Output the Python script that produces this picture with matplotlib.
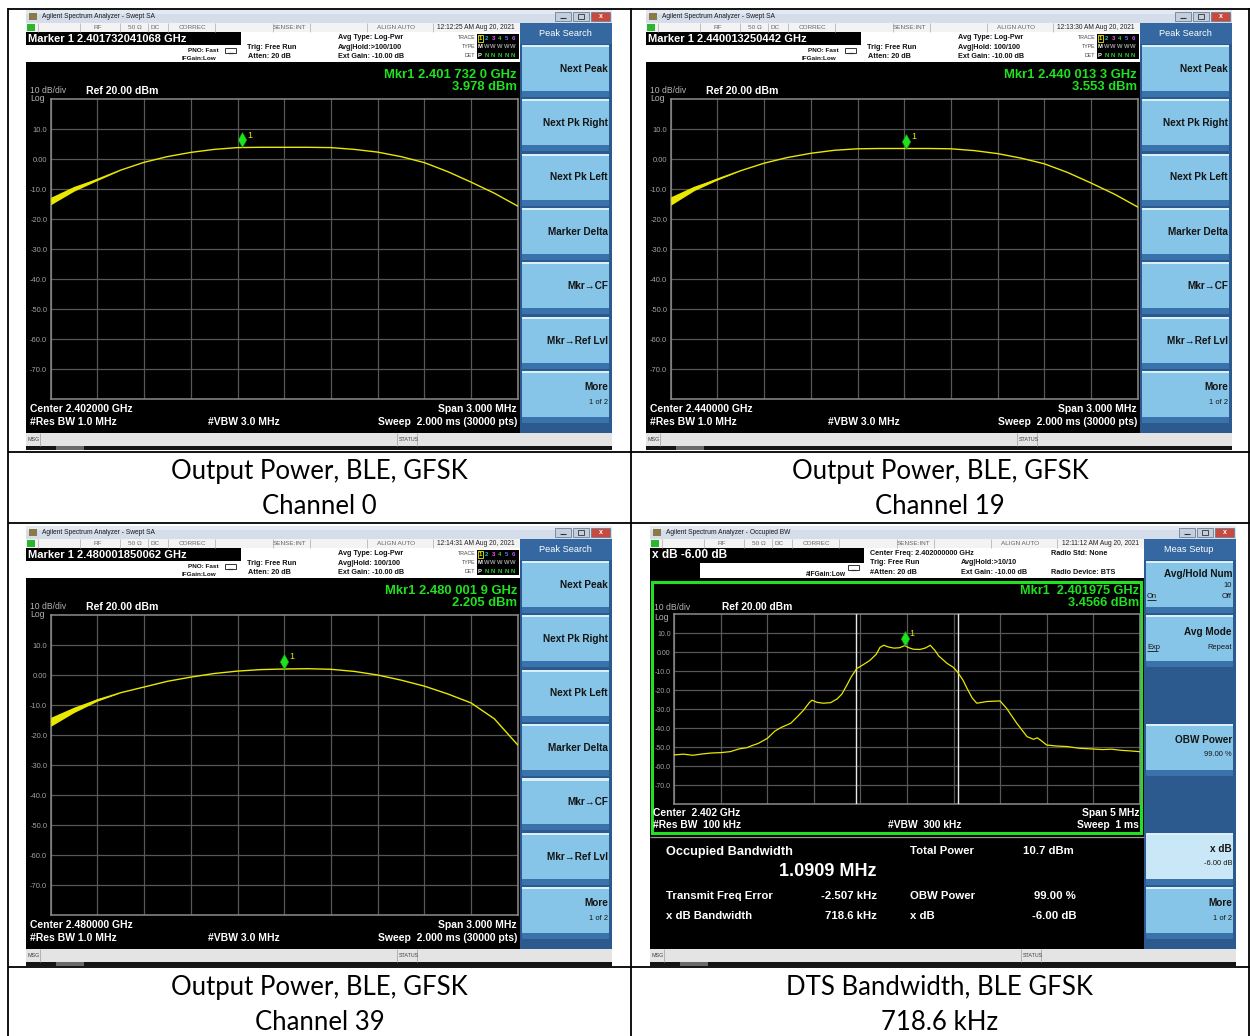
import numpy as np
import matplotlib
matplotlib.use("Agg")
import matplotlib.pyplot as plt
from matplotlib.patches import Rectangle
from matplotlib.path import Path

SCREEN = ["Liberation Sans", "DejaVu Sans"]
CAPTION = ["Lato", "DejaVu Sans"]
plt.rcParams["font.family"] = SCREEN

# ---------------- data ----------------
center_ghz = [2.402, 2.440, 2.480]
marker_freq_ghz = [2.4017320, 2.4400133, 2.4800019]
marker_dbm = [3.978, 3.553, 2.205]
marker_readout = ["2.401732041068", "2.440013250442", "2.480001850062"]
mkr_text = ["2.401 732 0 GHz", "2.440 013 3 GHz", "2.480 001 9 GHz"]
clock = ["12:12:25 AM Aug 20, 2021", "12:13:30 AM Aug 20, 2021",
         "12:14:31 AM Aug 20, 2021"]
avg_hold = ["Avg|Hold:>100/100", "Avg|Hold: 100/100", "Avg|Hold: 100/100"]

# swept traces, dBm at every half division over the 3 MHz span
trace_ch0 = [-13.9, -9.8, -6.7, -3.6, -1.0, 0.9, 2.3, 3.3, 3.9, 4.0, 4.0,
             4.0, 3.9, 3.3, 2.4, 0.9, -1.1, -4.1, -7.6, -11.3, -15.6]
trace_ch19 = [-13.9, -9.7, -6.6, -3.8, -1.3, 0.6, 2.0, 3.0, 3.5, 3.6, 3.6,
              3.6, 3.5, 2.9, 1.9, 0.4, -1.5, -4.4, -7.9, -11.6, -15.9]
trace_ch39 = [-15.5, -11.5, -8.2, -5.8, -3.9, -2.0, -0.6, 0.6, 1.4, 1.9, 2.1,
              2.2, 2.0, 1.3, 0.1, -1.6, -3.6, -6.2, -9.2, -14.5, -23.2]
# peak-to-peak width of the noisy start of each sweep (dB)
spread_ch0 = [2.5, 1.6, 0.7, 0.0]
spread_ch19 = [2.8, 1.5, 0.6, 0.0]
spread_ch39 = [3.0, 1.8, 0.8, 0.0]
traces = [trace_ch0, trace_ch19, trace_ch39]
spreads = [spread_ch0, spread_ch19, spread_ch39]

levels = [10, 0, -10, -20, -30, -40, -50, -60, -70]
level_labels = ["10.0", "0.00", "-10.0", "-20.0", "-30.0", "-40.0",
                "-50.0", "-60.0", "-70.0"]

# occupied bandwidth sweep: offset from 2.402 GHz (MHz) and level (dBm)
obw_offset_mhz = [-2.50, -2.40, -2.30, -2.20, -2.10, -2.00, -1.90, -1.80, -1.72,
                  -1.66, -1.60, -1.50, -1.42, -1.35, -1.25, -1.18, -1.11, -1.05,
                  -1.02, -0.97, -0.90, -0.82, -0.75, -0.70, -0.645, -0.60, -0.54,
                  -0.47, -0.40, -0.33, -0.29, -0.25, -0.20, -0.14, -0.08, -0.025,
                  0.02, 0.07, 0.14, 0.20, 0.25, 0.30, 0.34, 0.43, 0.50, 0.54,
                  0.60, 0.645, 0.70, 0.75, 0.86, 1.00, 1.07, 1.18, 1.29, 1.36,
                  1.40, 1.45, 1.50, 1.60, 1.72, 1.85, 2.00, 2.10, 2.20, 2.30,
                  2.40, 2.50]
obw_level = [-54.0, -53.6, -54.2, -53.5, -53.0, -52.8, -52.3, -50.8, -50.2,
             -49.0, -48.0, -45.3, -41.5, -39.5, -37.4, -34.0, -30.4, -26.5,
             -25.2, -26.3, -26.8, -26.5, -24.5, -22.0, -17.2, -13.0, -8.6,
             -6.5, -4.3, -1.0, 2.6, 3.7, 2.8, 2.2, 2.4, 3.5,
             2.4, 1.6, 1.5, 2.3, 3.7, 1.0, -1.9, -5.8, -8.0, -10.2,
             -14.5, -19.0, -24.0, -26.8, -25.9, -25.6, -29.5, -37.4, -44.4, -45.8,
             -45.0, -46.8, -48.8, -49.3, -49.6, -50.5, -50.9, -51.2, -51.0, -51.6,
             -51.9, -52.3]
obw_marker_mhz = -0.025
obw_marker_dbm = 3.4566
obw_mhz = 1.0909
freq_error_khz = -2.507
xdb_bw_khz = 718.6

captions = [("Output Power, BLE, GFSK", "Channel 0"),
            ("Output Power, BLE, GFSK", "Channel 19"),
            ("Output Power, BLE, GFSK", "Channel 39"),
            ("DTS Bandwidth, BLE GFSK", "718.6 kHz")]

# ---------------- figure ----------------
W, H = 1250, 1036
fig = plt.figure(figsize=(W / 100, H / 100), dpi=100)
cv = fig.add_axes([0, 0, 1, 1])
cv.set_xlim(0, W)
cv.set_ylim(H, 0)
cv.axis("off")

GREEN = "#1FE21F"
YELLOW = "#E8E800"
KEY_BG = "#2C5A8E"
KEY_LIGHT = "#86C5E8"
KEY_SEL = "#C9E7F6"
BTN_TOP, BTN_PITCH = 34.7, 54.4


def rect(x, y, w, h, fc, ec="none", lw=0, z=1):
    cv.add_patch(Rectangle((x, y), w, h, facecolor=fc, edgecolor=ec,
                           linewidth=lw, zorder=z))


def txt(x, y, s, size, color="#111111", ha="left", weight="normal",
        family=SCREEN, z=5):
    cv.text(x, y, s, fontsize=size, color=color, ha=ha, va="center",
            fontweight=weight, family=family, zorder=z)


def line(xs, ys, color, lw, z=3):
    cv.plot(xs, ys, color=color, lw=lw, zorder=z, solid_capstyle="butt")


def chrome(ox, oy, title, clock_str):
    rect(ox, oy, 586, 440, "#151515")
    # title bar
    rect(ox, oy, 586, 12.5, "#D4DDE9")
    rect(ox, oy, 586, 4, "#E2E9F2")
    rect(ox + 3, oy + 3, 8, 7, "#8B7A45")
    txt(ox + 16, oy + 6.5, title, 4.8, "#1A1A1A")
    for bx, bw, col in [(529, 16, "#C3CFDD"), (547, 16, "#C3CFDD"),
                        (565, 19, "#C94A3C")]:
        rect(ox + bx, oy + 2, bw, 9, col, ec="#6E7E92", lw=0.6, z=2)
    line([ox + 534, ox + 540], [oy + 8, oy + 8], "#333333", 0.8)
    rect(ox + 552, oy + 4, 6, 5, "none", ec="#333333", lw=0.6, z=3)
    txt(ox + 574.5, oy + 6.3, "x", 5, "white", ha="center", weight="bold")
    # status row
    rect(ox, oy + 12.5, 494, 9.5, "#F3F3F3")
    rect(ox + 1, oy + 13.5, 8, 7.5, "#2DB52D", z=2)
    for sx in [12, 54, 94, 122, 142, 189, 247, 284, 341, 407]:
        line([ox + sx, ox + sx], [oy + 12.5, oy + 22], "#B8B8B8", 0.6)
    for sx, s in [(72, "RF"), (109, "50 \u03a9"), (129, "DC"), (166, "CORREC"),
                  (264, "SENSE:INT"), (370, "ALIGN AUTO")]:
        txt(ox + sx, oy + 17.3, s, 4.6, "#666666", ha="center")
    txt(ox + 450, oy + 17.3, clock_str, 4.8, "#222222", ha="center")
    # header area
    rect(ox, oy + 22, 494, 30, "white")
    # display area
    rect(ox, oy + 52, 494, 370.5, "black")
    # softkey column
    rect(ox + 494, oy + 12.5, 92, 410, KEY_BG)
    rect(ox + 494, oy + 12.5, 92, 21, "#3567A0")
    # status bar
    rect(ox, oy + 422.5, 586, 13.5, "#E4E4E4")
    for sx in [14, 371, 391]:
        line([ox + sx, ox + sx], [oy + 422.5, oy + 436], "#AAAAAA", 0.6)
    txt(ox + 2, oy + 429.3, "MSG", 3.9, "#444444")
    txt(ox + 373, oy + 429.3, "STATUS", 3.9, "#444444")
    rect(ox + 30, oy + 436, 28, 4, "#6A6A6A")


def pno_icon(x, y):
    rect(x, y, 11, 5, "none", ec="#333333", lw=0.7, z=3)
    line([x + 3, x + 8], [y + 5, y + 5], "#333333", 0.9)


def softkey(ox, oy, k, title, sub=None, color=KEY_LIGHT):
    top = oy + BTN_TOP + k * BTN_PITCH
    x = ox + 495.7
    rect(x, top, 87.6, 46, color, z=2)
    rect(x, top, 87.6, 2.2, "#D9F0FB", z=2)
    rect(x, top + 46, 87.6, 6, "#3A72AC", z=2)
    if title:
        txt(ox + 582, top + 16 if sub else top + 24, title, 7.2,
            "#141414", ha="right", weight="bold")
    if sub:
        txt(ox + 582, top + 31, sub, 5.4, "#141414", ha="right")
    return top


def spectrum_axes(x0, y0, x1, y1, lo, hi, label_size):
    ax = fig.add_axes([x0 / W, 1 - y1 / H, (x1 - x0) / W, (y1 - y0) / H])
    ax.set_facecolor("black")
    ax.set_xlim(lo, hi)
    ax.set_ylim(-80, 20)
    ax.set_xticks(np.linspace(lo, hi, 11))
    ax.set_yticks(levels)
    ax.set_yticklabels(level_labels)
    ax.tick_params(length=0, labelsize=label_size, labelcolor="#A4A4A4", pad=2.5)
    ax.tick_params(axis="x", labelbottom=False)
    ax.grid(True, color="#575757", lw=0.9)
    for sp in ax.spines.values():
        sp.set_color("#8C8C8C")
        sp.set_linewidth(1.1)
    return ax


DIAMOND = Path([(0, 0), (0.28, 0.5), (0, 1), (-0.28, 0.5), (0, 0)],
               [Path.MOVETO, Path.LINETO, Path.LINETO, Path.LINETO,
                Path.CLOSEPOLY])


def marker(ax, x, y):
    ax.plot([x], [y], marker=DIAMOND, ms=21.6, color=GREEN, mec="#11A011",
            mew=0.4, ls="none", zorder=6)
    ax.annotate("1", (x, y), xytext=(5.3, 8.5), textcoords="offset points",
                color=YELLOW, fontsize=6.5, ha="center", va="center", zorder=7)


def swept_window(ox, oy, i):
    chrome(ox, oy, "Agilent Spectrum Analyzer - Swept SA", clock[i])
    rect(ox, oy + 22, 215, 12.7, "black", z=2)
    txt(ox + 2.5, oy + 28.7, f"Marker 1 {marker_readout[i]} GHz", 8,
        "white", weight="bold")
    txt(ox + 193, oy + 40.7, "PNO: Fast", 4.6, ha="right", weight="bold")
    txt(ox + 190, oy + 48, "IFGain:Low", 4.6, ha="right", weight="bold")
    pno_icon(ox + 199, oy + 37.5)
    txt(ox + 221, oy + 37.3, "Trig: Free Run", 5.2, weight="bold")
    txt(ox + 222, oy + 46.5, "Atten: 20 dB", 5.2, weight="bold")
    txt(ox + 312, oy + 27.3, "Avg Type: Log-Pwr", 5.2, weight="bold")
    txt(ox + 312, oy + 37.2, avg_hold[i], 5.2, weight="bold")
    txt(ox + 312, oy + 47, "Ext Gain: -10.00 dB", 5.2, weight="bold")
    # trace status block
    for yy, s in [(27.5, "TRACE"), (37, "TYPE"), (45.5, "DET")]:
        txt(ox + 449.5, oy + yy, s, 3.8, "#444444", ha="right")
    rect(ox + 450.7, oy + 23.5, 42.3, 25.5, "black", z=2)
    cols = ["#F0F000", "#00D0D0", "#FF50FF", "#40D040", "#4F7BFF", "#C060FF"]
    for j in range(6):
        cx = ox + 454 + j * 6.6
        txt(cx, oy + 28, str(j + 1), 4.2, cols[j], ha="center", weight="bold")
        txt(cx, oy + 37, "M" if j == 0 else "W", 4.2,
            "white" if j == 0 else "#9A9A9A", ha="center", weight="bold")
        txt(cx, oy + 45.3, "P" if j == 0 else "N", 4.2,
            "white" if j == 0 else "#30D030", ha="center", weight="bold")
    rect(ox + 451.5, oy + 24.5, 5, 7, "none", ec="#F0F000", lw=0.6, z=6)
    # display annotations
    txt(ox + 4, oy + 80.7, "10 dB/div", 6.2, "#B4B4B4")
    txt(ox + 4, oy + 88.5, "Log", 6.2, "#B4B4B4")
    txt(ox + 60, oy + 80.7, "Ref 20.00 dBm", 7.6, "white", weight="bold")
    txt(ox + 491, oy + 64.5, "Mkr1 " + mkr_text[i], 9.4, GREEN, ha="right",
        weight="bold")
    txt(ox + 491, oy + 77.5, f"{marker_dbm[i]:.3f} dBm", 9.4, GREEN,
        ha="right", weight="bold")
    txt(ox + 4, oy + 399.3, f"Center {center_ghz[i]:.6f} GHz", 7.5, "white",
        weight="bold")
    txt(ox + 4, oy + 412.3, "#Res BW 1.0 MHz", 7.5, "white", weight="bold")
    txt(ox + 218, oy + 412.3, "#VBW 3.0 MHz", 7.5, "white", ha="center",
        weight="bold")
    txt(ox + 491, oy + 399.3, "Span 3.000 MHz", 7.5, "white", ha="right",
        weight="bold")
    txt(ox + 491, oy + 412.3, "Sweep  2.000 ms (30000 pts)", 7.5, "white",
        ha="right", weight="bold")
    # softkeys
    txt(ox + 539.5, oy + 24, "Peak Search", 6.7, "white", ha="center")
    labels = ["Next Peak", "Next Pk Right", "Next Pk Left", "Marker Delta",
              "Mkr\u2192CF", "Mkr\u2192Ref Lvl"]
    for k, lab in enumerate(labels):
        softkey(ox, oy, k, lab)
    softkey(ox, oy, 6, "More", "1 of 2")
    # sweep trace
    ax = spectrum_axes(ox + 24.7, oy + 89.3, ox + 491.7, oy + 389.3,
                       -1.5, 1.5, 5.4)
    offs = np.linspace(-1.5, 1.5, len(traces[i]))
    lvl = np.array(traces[i])
    ax.plot(offs, lvl, color=YELLOW, lw=1.0, zorder=4)
    sp = np.array(spreads[i])
    n = len(sp)
    ax.fill_between(offs[:n], lvl[:n] - sp / 2, lvl[:n] + sp / 2,
                    color=YELLOW, lw=0, zorder=4)
    marker(ax, (marker_freq_ghz[i] - center_ghz[i]) * 1000, marker_dbm[i])


def obw_window(ox, oy):
    chrome(ox, oy, "Agilent Spectrum Analyzer - Occupied BW",
           "12:11:12 AM Aug 20, 2021")
    rect(ox, oy + 21.5, 214, 15.3, "black", z=2)
    rect(ox, oy + 36.8, 50, 15.2, "black", z=2)
    txt(ox + 2, oy + 29, "x dB -6.00 dB", 8.6, "white", weight="bold")
    txt(ox + 196, oy + 49, "#IFGain:Low", 4.8, ha="right", weight="bold")
    pno_icon(ox + 198, oy + 38.5)
    txt(ox + 220, oy + 27.3, "Center Freq: 2.402000000 GHz", 5.2, weight="bold")
    txt(ox + 220, oy + 36.7, "Trig: Free Run", 5.2, weight="bold")
    txt(ox + 220, oy + 46.5, "#Atten: 20 dB", 5.2, weight="bold")
    txt(ox + 311, oy + 36.7, "Avg|Hold:>10/10", 5.2, weight="bold")
    txt(ox + 311, oy + 46.8, "Ext Gain: -10.00 dB", 5.2, weight="bold")
    txt(ox + 401, oy + 27.3, "Radio Std: None", 5.2, weight="bold")
    txt(ox + 401, oy + 46.8, "Radio Device: BTS", 5.2, weight="bold")
    # measurement window with green outline
    rect(ox + 1.7, oy + 55.7, 489.3, 251.6, "none", ec="#22E022", lw=2.2, z=3)
    line([ox, ox + 494], [oy + 310.7, oy + 310.7], "#9A9A9A", 0.9)
    txt(ox + 4, oy + 81.3, "10 dB/div", 6.2, "#B4B4B4")
    txt(ox + 4, oy + 91.5, "Log", 6.2, "#B4B4B4")
    txt(ox + 72, oy + 81.3, "Ref 20.00 dBm", 7.4, "white", weight="bold")
    txt(ox + 489, oy + 64.5, "Mkr1  2.401975 GHz", 9.2, GREEN, ha="right",
        weight="bold")
    txt(ox + 489, oy + 77, f"{obw_marker_dbm:.4f} dBm", 9.2, GREEN,
        ha="right", weight="bold")
    txt(ox + 3, oy + 286.7, "Center  2.402 GHz", 7.4, "white", weight="bold")
    txt(ox + 3, oy + 298.8, "#Res BW  100 kHz", 7.4, "white", weight="bold")
    txt(ox + 275, oy + 298.8, "#VBW  300 kHz", 7.4, "white", ha="center",
        weight="bold")
    txt(ox + 489, oy + 286.7, "Span 5 MHz", 7.4, "white", ha="right",
        weight="bold")
    txt(ox + 489, oy + 298.8, "Sweep  1 ms", 7.4, "white", ha="right",
        weight="bold")
    # result table
    W1 = "white"
    txt(ox + 16, oy + 326, "Occupied Bandwidth", 9.2, W1, weight="bold")
    txt(ox + 177.5, oy + 345.5, f"{obw_mhz:.4f} MHz", 13, W1, ha="center",
        weight="bold")
    txt(ox + 260, oy + 325.5, "Total Power", 8.2, W1, weight="bold")
    txt(ox + 373, oy + 325.5, "10.7 dBm", 8.2, W1, weight="bold")
    txt(ox + 16, oy + 370, "Transmit Freq Error", 8.2, W1, weight="bold")
    txt(ox + 227, oy + 370, f"{freq_error_khz:.3f} kHz", 8.2, W1, ha="right",
        weight="bold")
    txt(ox + 260, oy + 370, "OBW Power", 8.2, W1, weight="bold")
    txt(ox + 426, oy + 370, "99.00 %", 8.2, W1, ha="right", weight="bold")
    txt(ox + 16, oy + 390, "x dB Bandwidth", 8.2, W1, weight="bold")
    txt(ox + 227, oy + 390, f"{xdb_bw_khz:.1f} kHz", 8.2, W1, ha="right",
        weight="bold")
    txt(ox + 260, oy + 390, "x dB", 8.2, W1, weight="bold")
    txt(ox + 426, oy + 390, "-6.00 dB", 8.2, W1, ha="right", weight="bold")
    # softkeys
    txt(ox + 538.5, oy + 24, "Meas Setup", 6.7, "white", ha="center")
    top = softkey(ox, oy, 0, None)
    txt(ox + 582, top + 13.3, "Avg/Hold Num", 7.2, "#141414", ha="right",
        weight="bold")
    txt(ox + 582, top + 25, "10", 5.4, "#141414", ha="right")
    txt(ox + 497, top + 36, "On", 5.4, "#141414")
    line([ox + 497, ox + 505.5], [top + 39.5, top + 39.5], "#141414", 0.6, z=6)
    txt(ox + 582, top + 36, "Off", 5.4, "#141414", ha="right")
    top = softkey(ox, oy, 1, None)
    txt(ox + 582, top + 17, "Avg Mode", 7.2, "#141414", ha="right",
        weight="bold")
    txt(ox + 497, top + 32, "Exp", 5.4, "#141414")
    line([ox + 497, ox + 507.5], [top + 35.5, top + 35.5], "#141414", 0.6, z=6)
    txt(ox + 582, top + 32, "Repeat", 5.4, "#141414", ha="right")
    softkey(ox, oy, 3, "OBW Power", "99.00 %")
    softkey(ox, oy, 5, "x dB", "-6.00 dB", color=KEY_SEL)
    softkey(ox, oy, 6, "More", "1 of 2")
    # sweep trace
    ax = spectrum_axes(ox + 24.3, oy + 88.3, ox + 489.7, oy + 278.3,
                       -2.5, 2.5, 5.0)
    ax.plot(obw_offset_mhz, obw_level, color=YELLOW, lw=0.9, zorder=4)
    edge = freq_error_khz / 1000
    for sgn in (-1, 1):
        ax.axvline(edge + sgn * obw_mhz / 2, color="#E8E8E8", lw=1.0, zorder=3)
    marker(ax, obw_marker_mhz, obw_marker_dbm)


swept_window(26, 10, 0)
swept_window(646, 10, 1)
swept_window(26, 526, 2)
obw_window(650, 526)

# table rules
for x in [8, 631, 1249]:
    line([x, x], [8, H], "black", 1.3, z=10)
for y in [8.5, 452, 523, 967]:
    line([8, 1250], [y, y], "black", 1.3, z=10)

# captions
for (l1, l2), (cx, cy) in zip(captions, [(319.5, 471), (940, 471),
                                         (319.5, 987), (940, 987)]):
    txt(cx, cy, l1, 18.5, "black", ha="center", family=CAPTION)
    txt(cx, cy + 35, l2, 18.5, "black", ha="center", family=CAPTION)

fig.savefig("out.png", dpi=100)
